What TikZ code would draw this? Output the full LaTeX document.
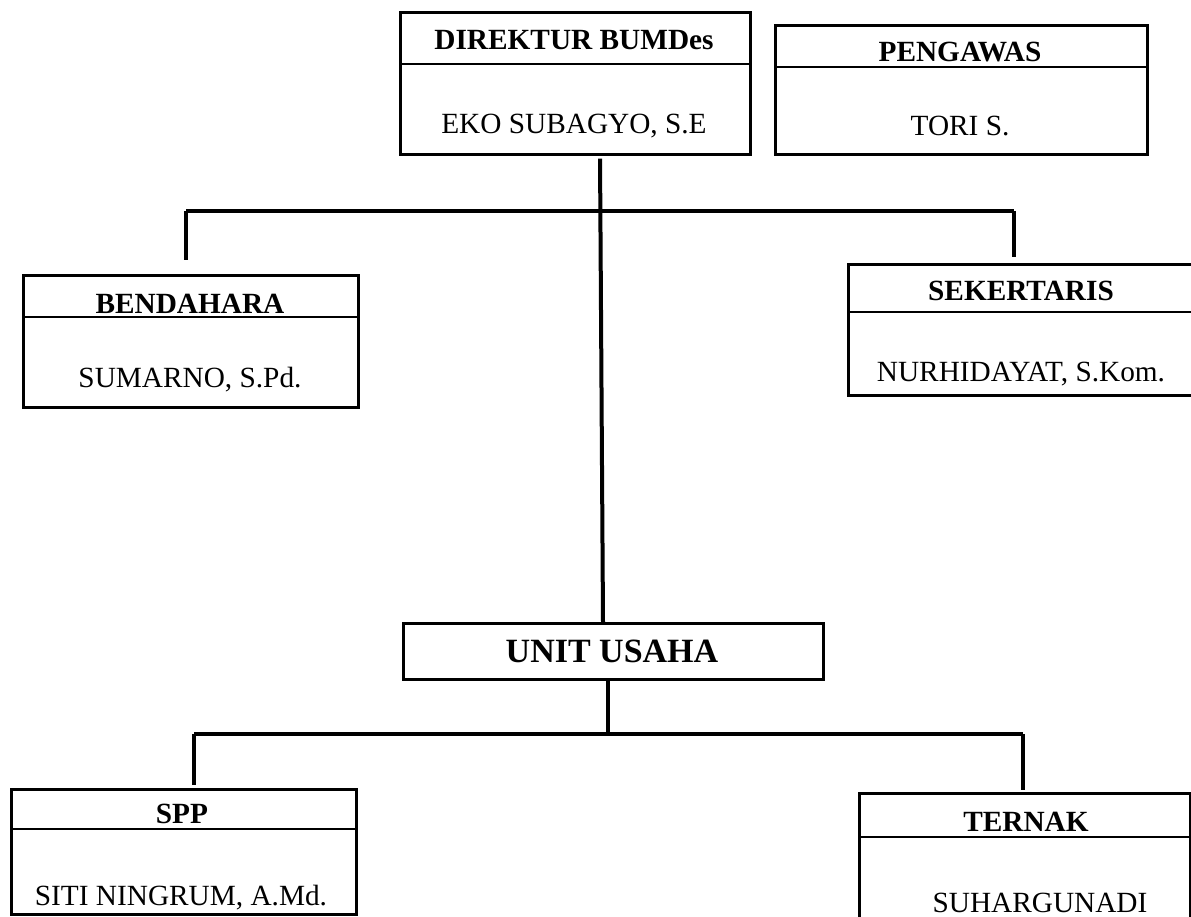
\documentclass[tikz,border=0pt]{standalone}
\usepackage{fontspec}
\setmainfont{Liberation Serif}
\begin{document}
\begin{tikzpicture}[x=1pt,y=-1pt,
  box/.style={draw, line width=2.6pt, inner sep=0pt, anchor=north west},
  hline/.style={line width=2.2pt},
  conn/.style={line width=4pt},
  head/.style={font=\fontsize{29.3}{35}\selectfont\bfseries, anchor=base, inner sep=0pt},
  person/.style={font=\fontsize{29.3}{35}\selectfont, anchor=base, inner sep=0pt},
  unithead/.style={font=\fontsize{34}{40}\selectfont\bfseries, anchor=base, inner sep=0pt},
]
\useasboundingbox (0,0) rectangle (1191,917);
\clip (0,0) rectangle (1191,917);
\fill[white] (0,0) rectangle (1191,917);

% boxes
\node[box, minimum width=350pt, minimum height=142pt] (dir) at (399,11) {};
\node[box, minimum width=372pt, minimum height=129pt] (pen) at (774,24) {};
\node[box, minimum width=335pt, minimum height=132pt] (ben) at (22,274) {};
\node[box, minimum width=348pt, minimum height=131pt] (sek) at (847,263) {};
\node[box, minimum width=420pt, minimum height=56pt] (unit) at (402,622) {};
\node[box, minimum width=345pt, minimum height=125pt] (spp) at (10,788) {};
\node[box, minimum width=331pt, minimum height=150pt] (ter) at (858,792) {};

% header separators
\draw[hline] (dir.west |- 0,64) -- (dir.east |- 0,64);
\draw[hline] (pen.west |- 0,67) -- (pen.east |- 0,67);
\draw[hline] (ben.west |- 0,317) -- (ben.east |- 0,317);
\draw[hline] (sek.west |- 0,312) -- (sek.east |- 0,312);
\draw[hline] (spp.west |- 0,829) -- (spp.east |- 0,829);
\draw[hline] (ter.west |- 0,837) -- (ter.east |- 0,837);

% texts
\node[head] (dirh) at (574,50) {DIREKTUR BUMDes};
\node[person] (dirp) at (574,134) {EKO SUBAGYO, S.E};
\node[head] (penh) at (960,62) {PENGAWAS};
\node[person] (penp) at (960,136) {TORI S.};
\node[head] (benh) at (190,313) {BENDAHARA};
\node[person] (benp) at (190,387) {SUMARNO, S.Pd.};
\node[head] (sekh) at (1021,301) {SEKERTARIS};
\node[person] (sekp) at (1021,381) {NURHIDAYAT, S.Kom.};
\node[unithead] (unith) at (612,662) {UNIT USAHA};
\node[head] (spph) at (182,823) {SPP};
\node[person] (sppp) at (181,905) {SITI NINGRUM, A.Md.};
\node[head] (terh) at (1026,831) {TERNAK};
\node[person] (terp) at (1040,912) {SUHARGUNADI};

% junctions
\coordinate (jtop) at (600,211);
\coordinate (jben) at (186,211);
\coordinate (jsek) at (1014,211);
\coordinate (jlow) at (608,734);
\coordinate (jspp) at (194,734);
\coordinate (jter) at (1023,734);

% connectors
\draw[conn, shorten <=3pt] (dir.south -| jtop) -- (unit.north -| 603,0);
\draw[conn] (jben) -- (jsek);
\draw[conn, shorten >=14pt] (jben) -- (jben |- ben.north);
\draw[conn, shorten >=6pt] (jsek) -- (jsek |- sek.north);
\draw[conn] (unit.south -| jlow) -- (jlow);
\draw[conn] (jspp) -- (jter);
\draw[conn, shorten >=3pt] (jspp) -- (jspp |- spp.north);
\draw[conn, shorten >=2pt] (jter) -- (jter |- ter.north);
\end{tikzpicture}
\end{document}
